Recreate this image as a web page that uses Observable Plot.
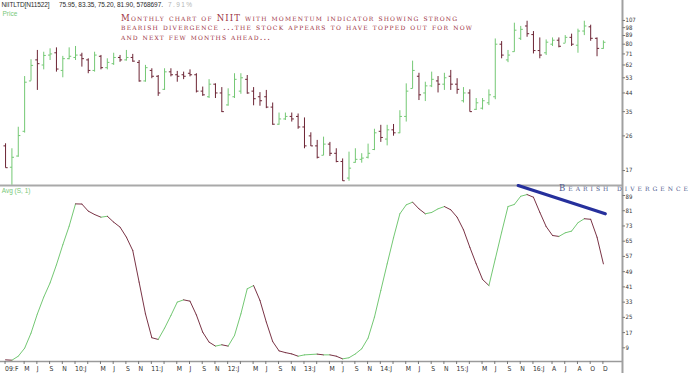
<!DOCTYPE html>
<html><head><meta charset="utf-8">
<script src="https://cdn.jsdelivr.net/npm/d3@7"></script>
<script src="https://cdn.jsdelivr.net/npm/@observablehq/plot@0.6"></script>
<style>
html,body{margin:0;padding:0;background:#fff;}
#wrap{position:relative;width:690px;height:373px;overflow:hidden;background:#fff;}
#wrap svg{position:absolute;left:0;background:transparent !important;overflow:visible;}
</style></head><body><div id="wrap"></div>
<script>
// ---- data: monthly bars Feb 2009 .. Dec 2016 (month index 1 = Feb 2009)
const firstMonth = 1;
const opens = [23,17.7,20.3,27.5,51,66,62,70,72,58,
 67,68,70,66,58,69,60,63,68,66,
 68,64,51,58,54,46,57,55,55,56,
 55,45,42,49,44,38,42,45,52,45,
 42,42,37,30,32,33,33,29,26,23,
 20.5,23.5,21,19,15.5,18.8,19.5,20,22,27.5,
 25,28,27,33,46.5,54,44,48,51,49,
 54,49,40,44,36,36.5,39,42,80,66,
 73,86,100,90,74,72,80,84,81,87,
 79,94,99,86,75.95];
const highs = [23.6,22.2,28.9,53.8,66.1,74.1,72.5,75.6,76.5,68.9,
 76.5,77.8,71.6,66.9,72.5,69.7,66.9,71.6,69.7,74.1,
 70.6,65.5,61.7,59.2,54.5,59.2,59.2,57.3,56.8,58.4,
 55.7,47.3,51.8,49.2,47.0,46.3,55.7,55.7,54.5,47.0,
 44.2,45.4,38.9,34.4,34.4,34.4,34.0,32.4,27.0,24.6,
 25.6,24.0,22.2,19.6,21.3,22.2,20.9,23.5,28.2,29.6,
 29.6,29.9,35.4,49.2,65.0,56.0,50.2,56.8,53.8,56.0,
 58.0,52.4,47.0,45.7,41.1,41.1,45.7,85.3,82.6,74.1,
 103.5,99.5,106,93.4,86.4,84.3,86.4,86.4,88.9,90.5,
 96.2,106,101,86.4,83.35];
const lows = [17.5,14.2,20.0,26.9,50.9,45.4,58.4,65.5,56.8,53.0,
 66.1,65.5,60.4,55.7,56.8,58.4,58.4,61.7,64.1,65.0,
 64.1,50.2,50.2,52.4,42.2,45.4,53.6,50.2,51.8,53.6,
 44.0,42.2,41.1,41.1,34.6,37.4,41.1,43.3,43.3,37.6,
 37.4,36.3,29.6,29.6,31.4,30.8,28.2,22.2,22.8,19.6,
 20.4,20.2,18.7,14.9,14.9,18.6,18.6,19.6,21.7,24.0,
 23.0,25.9,26.7,30.8,46.3,40.1,39.6,47.0,44.0,45.4,
 45.4,43.3,38.9,34.8,35.5,35.7,37.7,40.5,66.9,63.8,
 72.5,83.7,87.1,71.0,66.9,69.7,77.8,76.5,80.9,77.8,
 71.6,88.9,82.9,68.6,75.2];
const closes = [17.6,20.0,26.1,50.2,61.7,63,69.7,71,59,67,
 69,70,67,58,70,60,64,68,66,68,
 65,51,60,54,44,57,55,54,54,55,
 45,43,49,44,35,43,52,53,44,41,
 40,37,30,32,33,32,29,23,23,20,
 23.5,21,19,15,17.5,19.5,19.8,21,27,25.5,
 28,27,33,45,58,43,48,52,49,53,
 49,46,44,35,39,40,43,80,70,70,
 95,96,91,74,70,82,84,78,87,80,
 94,100,86,76,81.9];
const momentum = [2.7,2.5,4.6,8.8,16.7,26.8,35.6,43.1,52.6,63.1,
 72.9,84.6,84.5,80.8,79.0,77.6,78.1,75.0,72.4,67.1,
 60.1,43.5,26.8,14.3,13.4,19.3,26.0,33.0,34.2,33.5,
 26.3,17.2,12.0,9.9,10.6,9.9,15.5,26.8,40.0,41.7,
 33.9,22.5,12.3,7.4,6.5,5.8,4.6,5.3,5.5,5.7,
 5.3,5.3,4.6,3.2,3.8,5.8,8.5,14.1,25.1,39.1,
 53.1,66.8,79.4,84.1,85.5,82.0,79.4,80.1,82.0,83.2,
 81.5,77.6,71.0,61.8,53.1,44.9,41.7,55.7,69.7,83.2,
 84.3,88.6,89.5,88.1,80.2,72.7,68.0,67.5,69.4,70.3,
 74.7,76.8,76.5,67.1,53.1];
// divergence trend line (month index, indicator value)
const divergenceMonths = [81.6, 95.3];
const divergenceValues = [94.2, 79.4];
// tick labels
const priceTicks = [17,26,35,44,53,62,71,80,89,98,107];
const momTicks = [9,17,25,33,41,49,57,65,73,81,89];
const xTickMonths = [1,4,6,8,10,12,14,16,18,20,22,24,26,28,30,32,34,36,38,40,42,44,46,48,50,52,54,56,58,60,62,64,66,68,70,72,74,76,78,80,82,84,87,89,91,93,95];
const xTickLabels = ["09:F","M","J","S","N","10:J","","M","J","S","N","11:J","","M","J","S","N","12:J","","M","J","S","N","13:J","","M","J","S","N","14:J","","M","J","S","N","15:J","","M","J","S","N","16:J","A","J","A","O","D"];

const GREEN = "#74c874", MAROON = "#6c2434", LINEMAROON = "#7a3446";
const AXISFONT = "'Liberation Sans Narrow','DejaVu Sans Condensed','Liberation Sans',Arial,sans-serif";

const bars = opens.map((o, i) => ({k: firstMonth + i, open: o, high: highs[i], low: lows[i], close: closes[i]}));
bars.forEach(d => d.color = d.close >= d.open ? GREEN : MAROON);
const segs = momentum.slice(1).map((v, i) => ({k1: firstMonth + i, v1: momentum[i], k2: firstMonth + i + 1, v2: v}));
segs.forEach(d => d.color = d.v2 >= d.v1 ? GREEN : LINEMAROON);
const divergence = divergenceMonths.map((k, i) => ({k, v: divergenceValues[i]}));
const labelOf = new Map(xTickMonths.map((m, i) => [m, xTickLabels[i]]));

const X = {domain: [0, 95], range: [-1.3, 602.9]};
const EDGE = 98; // month index of right axis line
const TICKLEN = 0.4;

function rightAxis(ticks, topLabelDy = 0) {
  const topTick = ticks[ticks.length - 1];
  return [
    Plot.link(ticks, {x1: EDGE, x2: EDGE + TICKLEN, y1: d => d, y2: d => d, stroke: "#777", strokeWidth: 1}),
    Plot.text(ticks.slice(0, -1), {x: EDGE, y: d => d, text: d => String(d), dx: 3, textAnchor: "start", fill: "#333", fontSize: 6}),
    Plot.text([topTick], {x: EDGE, y: d => d, text: d => String(d), dx: 3, dy: topLabelDy, textAnchor: "start", fill: "#333", fontSize: 6})
  ];
}

const priceChart = Plot.plot({
  width: 690, height: 190, marginTop: 0, marginBottom: 5, marginLeft: 0, marginRight: 68,
  style: {background: "transparent", fontFamily: AXISFONT, fontSize: "6px", color: "#333"},
  x: {...X, axis: null},
  y: {type: "log", domain: [14.15, 136.7], axis: null},
  color: {type: "identity"},
  marks: [
    Plot.ruleY([14.15], {stroke: "#a9a9a9", strokeWidth: 2}),
    Plot.ruleX([EDGE], {stroke: "#a0a0a0", strokeWidth: 2}),
    ...rightAxis(priceTicks),
    Plot.ruleX(bars, {x: "k", y1: "low", y2: "high", stroke: "color", strokeWidth: 1}),
    Plot.link(bars, {x1: d => d.k - 0.33, x2: "k", y1: "open", y2: "open", stroke: "color", strokeWidth: 1}),
    Plot.link(bars, {x1: "k", x2: d => d.k + 0.33, y1: "close", y2: "close", stroke: "color", strokeWidth: 1})
  ]
});
priceChart.style.top = "0px";

const momChart = Plot.plot({
  width: 690, height: 188, marginTop: 0, marginBottom: 12, marginLeft: 0, marginRight: 68,
  style: {background: "transparent", fontFamily: AXISFONT, fontSize: "6px", color: "#333"},
  x: {...X, axis: null},
  y: {domain: [1.82, 94.25], axis: null},
  color: {type: "identity"},
  marks: [
    Plot.ruleY([1.82], {stroke: "#9a9a9a", strokeWidth: 1.5}),
    Plot.ruleX([EDGE], {y1: -4.6, y2: 94.25, stroke: "#a0a0a0", strokeWidth: 2}),
    ...rightAxis(momTicks, 1.6),
    Plot.axisX(xTickMonths, {anchor: "bottom", tickSize: 3, tickPadding: 1.5, textAnchor: "start", dx: -0.5, fill: "#333", stroke: "#777", fontSize: 6.8, tickFormat: m => labelOf.get(m)}),
    Plot.link(segs, {x1: "k1", y1: "v1", x2: "k2", y2: "v2", stroke: "color", strokeWidth: 1, strokeLinecap: "round"}),
    Plot.line(divergence, {x: "k", y: "v", stroke: "#26309c", strokeWidth: 3.2})
  ]
});
momChart.style.top = "185px";

const wrap = document.getElementById("wrap");
wrap.appendChild(priceChart);
wrap.appendChild(momChart);

// ---- text overlay
const ov = d3.select(wrap).append("svg").attr("width", 690).attr("height", 373).style("top", "0px").style("pointer-events", "none");
const SANS = "'Liberation Sans',Arial,sans-serif";
const SERIF = "'DejaVu Serif','Liberation Serif',serif";
function txt(x, y, s, opts) {
  const t = ov.append("text").attr("x", x).attr("y", y).text(s)
    .style("font-family", opts.font || SANS).style("font-size", opts.size + "px").attr("fill", opts.fill);
  if (opts.caps) t.style("font-variant", "small-caps");
  if (opts.len) t.attr("textLength", opts.len).attr("lengthAdjust", "spacing");
  return t;
}
txt(1.5, 6.8, "NIITLTD[N11522]", {size: 6.5, fill: "#2a2a2a", len: 48});
txt(59, 6.8, "75.95, 83.35, 75.20, 81.90, 5768697.", {size: 6.5, fill: "#2a2a2a", len: 104});
txt(168, 6.8, "7.91%", {size: 6.5, fill: "#b4b4b4", len: 24});
txt(2.5, 15.6, "Price", {size: 6.5, fill: "#78c878"});
txt(1.7, 192.5, "Avg (S, 1)", {size: 6.5, fill: "#78c878"});

// annotation: three lines
const ANN = "#9c3242";
txt(121, 20.5, "Monthly chart of NIIT with momentum indicator showing strong", {font: SERIF, size: 8.5, fill: ANN, caps: true, len: 336});
txt(121, 30.2, "bearish divergence ...the stock appears to have topped out for now", {font: SERIF, size: 8.5, fill: ANN, caps: true, len: 351});
txt(121, 39.9, "and next few months ahead...", {font: SERIF, size: 8.5, fill: ANN, caps: true, len: 149});

txt(559, 191.0, "Bearish divergence", {font: SERIF, size: 8.5, fill: "#4e5a8e", caps: true, len: 129});
</script></body></html>
